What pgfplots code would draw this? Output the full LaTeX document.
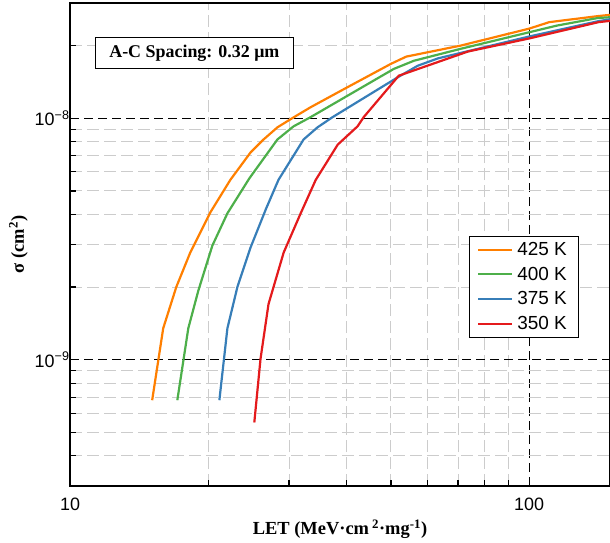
\documentclass[border=0pt]{standalone}
\usepackage{pgfplots}
\pgfplotsset{compat=1.18}
\usepackage{fontspec}
\setmainfont{Liberation Sans}
\newfontfamily\serifbf{Liberation Serif}
\definecolor{c425}{RGB}{255,127,0}
\definecolor{c400}{RGB}{77,175,74}
\definecolor{c375}{RGB}{55,126,184}
\definecolor{c350}{RGB}{228,26,28}
\begin{document}
\begin{tikzpicture}
\begin{axis}[
  xmode=log, ymode=log,
  scale only axis, width=540bp, height=483bp,
  xmin=10, xmax=150, ymin=3e-10, ymax=3e-8,
  xtick={10,100}, xticklabels={10,100},
  ytick={1e-9,1e-8}, yticklabels={10\textsuperscript{−9},10\textsuperscript{−8}},
  minor xtick={20,30,40,50,60,70,80,90},
  minor ytick={4e-10,5e-10,6e-10,7e-10,8e-10,9e-10,2e-9,3e-9,4e-9,5e-9,6e-9,7e-9,8e-9,9e-9,2e-8},
  grid=both,
  major grid style={black, dash pattern=on 9bp off 5bp, line width=1bp},
  minor grid style={black!20, dash pattern=on 12bp off 5bp, line width=1bp},
  tick align=inside, xtick pos=bottom, ytick pos=left,
  major tick length=9bp, minor tick length=6bp,
  axis line style={line width=1.8bp},
  tick style={black, line width=1.2bp},
  tick label style={font=\fontsize{18}{20}\selectfont},
  xticklabel style={yshift=-8bp},
  yticklabel style={xshift=3bp},
  xlabel={LET (MeV·cm\,\textsuperscript{2}·mg\textsuperscript{-1})},
  ylabel={σ (cm\textsuperscript{2})},
  label style={font=\serifbf\bfseries\fontsize{18.5}{20}\selectfont},
  xlabel style={yshift=-3bp},
  legend style={at={(0.943,0.518)}, anchor=north east, draw=black, line width=1bp,
    font=\fontsize{19}{22}\selectfont, inner xsep=8bp, inner ysep=4bp, row sep=6bp},
  legend cell align=left,
  legend image code/.code={\draw[#1] (0bp,0bp) -- (34bp,0bp);},
  every axis legend/.append style={nodes={inner xsep=4bp}},
  every axis plot/.append style={line width=2.2bp},
]
\addplot[c425] coordinates {(15.1,6.8e-10) (15.96,1.35e-9) (17.04,2.0e-9) (18.28,2.78e-9) (20.22,4.08e-9) (22.35,5.56e-9) (24.72,7.21e-9) (26.4,8.17e-9) (28.3,9.17e-9) (30.2,9.9e-9) (33.4,1.11e-8) (39.5,1.32e-8) (50,1.68e-8) (54,1.8e-8) (71,2.0e-8) (100,2.35e-8) (110.6,2.5e-8) (141.6,2.65e-8) (150,2.68e-8)};
\addlegendentry{425 K}
\addplot[c400] coordinates {(17.13,6.8e-10) (18.1,1.35e-9) (19.03,1.93e-9) (20.42,2.97e-9) (22.02,4.04e-9) (24.6,5.65e-9) (28.3,8.17e-9) (30.69,9.26e-9) (33.4,1.01e-8) (50.7,1.6e-8) (56.1,1.73e-8) (71,1.94e-8) (100,2.27e-8) (115,2.42e-8) (141,2.6e-8) (150,2.62e-8)};
\addlegendentry{400 K}
\addplot[c375] coordinates {(21.15,6.8e-10) (22.02,1.35e-9) (23.15,2.0e-9) (24.72,2.91e-9) (26.7,4.2e-9) (28.45,5.56e-9) (32.27,8.17e-9) (34.6,9.17e-9) (37.3,1.01e-8) (51.8,1.48e-8) (57.2,1.65e-8) (63.3,1.77e-8) (100,2.18e-8) (141,2.52e-8) (150,2.57e-8)};
\addlegendentry{375 K}
\addplot[c350] coordinates {(25.2,5.5e-10) (26.0,1.01e-9) (27.06,1.7e-9) (29.2,2.78e-9) (31.8,4.04e-9) (34.3,5.56e-9) (38.3,7.78e-9) (42.3,9.26e-9) (43.6,1.01e-8) (52.0,1.5e-8) (73.6,1.89e-8) (100,2.14e-8) (141.6,2.5e-8) (150,2.53e-8)};
\addlegendentry{350 K}
\node[draw=black, line width=1bp, anchor=north west, fill=white,
  font=\serifbf\bfseries\fontsize{18}{20}\selectfont, inner xsep=8bp,
  minimum height=31bp, minimum width=198bp] at (axis description cs:0.046,0.930) {A-C Spacing: 0.32 μm};
\end{axis}
\pgfresetboundingbox
\path[use as bounding box] ([shift={(-70bp,-57bp)}]current axis.south west) rectangle ([shift={(0bp,3bp)}]current axis.north east);
\end{tikzpicture}
\end{document}
